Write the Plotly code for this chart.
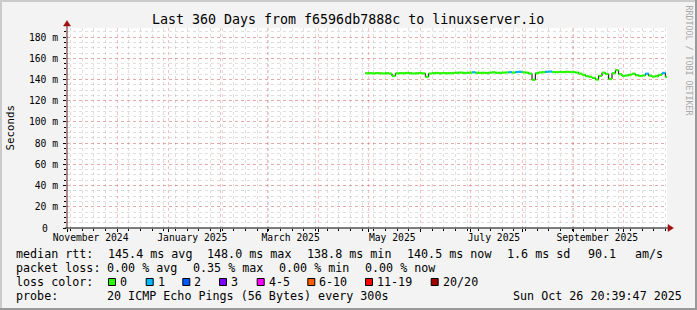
import plotly.graph_objects as go
import pandas as pd

# ---------------- data ----------------
TITLE = "Last 360 Days from f6596db7888c to linuxserver.io"
START = "2024-10-31 20:39:47"
END = "2025-10-26 20:39:47"

# day offset from START of each sample (2-day step)
day_offsets = list(range(179, 361, 2))
median_ms = [
    145.9, 146.0, 145.8, 146.1, 145.9, 145.7, 146.0, 145.6, 143.3, 145.8,
    146.0, 145.9, 146.2, 146.0, 145.7, 145.9, 146.1, 145.8, 142.6, 145.7,
    146.0, 146.2, 145.9, 146.1, 146.0, 145.9, 146.2, 146.4, 146.6, 146.3,
    146.2, 146.5, 146.8, 146.4, 146.2, 146.4, 146.1, 146.5, 146.8, 146.4,
    146.3, 146.5, 146.7, 146.9, 146.6, 147.1, 147.3, 146.8, 146.5, 145.6,
    139.8, 146.0, 146.7, 146.9, 147.3, 147.5, 147.1, 146.9, 147.2, 147.0,
    147.3, 147.1, 147.0, 146.6, 145.6,
    144.5, 143.2, 142.6, 141.5, 140.0, 143.5, 146.5, 145.2, 140.5, 146.0,
    148.8, 145.0, 143.5, 143.8, 144.6, 145.5, 144.0, 143.4, 143.8, 145.5,
    143.6, 142.8, 143.2, 144.5, 146.2, 142.5,
]
loss = [0] * len(median_ms)
for d in (243, 265, 269, 271, 287, 289, 347, 357):
    loss[day_offsets.index(d)] = 1

month_labels = ["November 2024", "January 2025", "March 2025",
                "May 2025", "July 2025", "September 2025"]
month_label_dates = ["2024-11-15", "2025-01-15", "2025-03-15",
                     "2025-05-15", "2025-07-15", "2025-09-15"]

y_tick_vals = [0, 20, 40, 60, 80, 100, 120, 140, 160, 180]
y_tick_text = ["", "20 m", "40 m", "60 m", "80 m", "100 m",
               "120 m", "140 m", "160 m", "180 m"]
zero_label = "0"

loss_labels = ["0", "1", "2", "3", "4-5", "6-10", "11-19", "20/20"]
loss_colors = ["#26ff00", "#00b8ff", "#0059ff", "#7e00ff",
               "#ff00ff", "#ff5e00", "#ff0000", "#a10000"]

legend_rtt = [("median rtt:", 16), ("145.4 ms avg", 108), ("148.0 ms max", 207),
              ("138.8 ms min", 306.7), ("140.5 ms now", 406.7),
              ("1.6 ms sd", 506.7), ("90.1", 588.3), ("am/s", 635)]
legend_loss = [("packet loss:", 16), ("0.00 % avg", 107.3), ("0.35 % max", 193.3),
               ("0.00 % min", 279.3), ("0.00 % now", 365)]
legend_probe = [("probe:", 16), ("20 ICMP Echo Pings (56 Bytes) every 300s", 107.3),
                ("Sun Oct 26 20:39:47 2025", 513.3)]
loss_box_x = [108, 145.7, 182.3, 219, 256.7, 307.3, 365, 430.7]

# ---------------- geometry ----------------
WIDTH, HEIGHT = 697, 310
L, T, PW, PH = 67, 28, 600, 200
FONT = "DejaVu Sans Mono"


def px(x):
    return (x - L) / PW


def py(y):
    return (T + PH - y) / PH


start = pd.Timestamp(START)
end = pd.Timestamp(END)
xs = [start + pd.Timedelta(days=d) for d in day_offsets]

fig = go.Figure()

# black median line (shows vertical transitions)
fig.add_trace(go.Scatter(x=xs, y=median_ms, mode="lines", line_shape="hv",
                         line=dict(color="black", width=1),
                         hoverinfo="skip", showlegend=False))

# loss-colored horizontal segments
for lvl in sorted(set(loss)):
    sx, sy = [], []
    for i, v in enumerate(median_ms):
        if loss[i] != lvl:
            continue
        x1 = xs[i + 1] if i + 1 < len(xs) else end
        sx += [xs[i], x1, None]
        sy += [v, v, None]
    fig.add_trace(go.Scatter(x=sx, y=sy, mode="lines",
                             line=dict(color=loss_colors[lvl], width=2.2),
                             hoverinfo="skip", showlegend=False))

# invisible copy on the label axis so that it is drawn
fig.add_trace(go.Scatter(x=xs, y=median_ms, mode="lines", xaxis="x2",
                         line=dict(color="rgba(0,0,0,0)", width=0),
                         hoverinfo="skip", showlegend=False))

major_grid = "rgba(255,60,60,0.33)"
minor_grid = "rgba(150,150,150,0.30)"
tickfont = dict(family=FONT, size=9.7, color="black")

fig.update_layout(
    width=WIDTH, height=HEIGHT, autosize=False,
    margin=dict(l=L, r=WIDTH - L - PW, t=T, b=HEIGHT - T - PH, pad=0),
    paper_bgcolor="#f3f3f3", plot_bgcolor="white",
    showlegend=False,
    xaxis=dict(type="date", range=[start, end], tickmode="linear",
               tick0="2024-11-01", dtick="M1", showticklabels=False,
               showgrid=True, gridcolor=major_grid, griddash="dot", gridwidth=1,
               ticks="outside", ticklen=3, tickcolor="black",
               minor=dict(tick0="2024-11-03", dtick=7 * 86400000, showgrid=True,
                          gridcolor=minor_grid, griddash="dot",
                          ticks="outside", ticklen=2, tickcolor="black"),
               zeroline=False, showline=False, fixedrange=True),
    xaxis2=dict(type="date", range=[start, end], overlaying="x", anchor="y",
                side="bottom", tickmode="array", tickvals=month_label_dates,
                ticktext=month_labels, showgrid=False, ticks="",
                tickfont=tickfont, zeroline=False, showline=False,
                ticklabelstandoff=2, fixedrange=True),
    yaxis=dict(range=[0, 188.6], tickmode="array", tickvals=y_tick_vals,
               ticktext=y_tick_text, tickfont=tickfont,
               showgrid=True, gridcolor=major_grid, griddash="dot", gridwidth=1,
               ticks="outside", ticklen=3, tickcolor="black",
               ticklabelstandoff=3,
               minor=dict(tick0=0, dtick=5, showgrid=True, gridcolor=minor_grid,
                          griddash="dot", ticks="outside", ticklen=2,
                          tickcolor="black"),
               zeroline=False, showline=False, fixedrange=True),
)

shapes = []
# frame
shapes.append(dict(type="line", xref="paper", yref="paper", x0=px(0), x1=px(WIDTH),
                   y0=py(1), y1=py(1), line=dict(color="#cbcbcb", width=2)))
shapes.append(dict(type="line", xref="paper", yref="paper", x0=px(1), x1=px(1),
                   y0=py(0), y1=py(HEIGHT), line=dict(color="#cbcbcb", width=2)))
shapes.append(dict(type="line", xref="paper", yref="paper", x0=px(0), x1=px(WIDTH),
                   y0=py(HEIGHT - 1), y1=py(HEIGHT - 1), line=dict(color="#999999", width=2)))
shapes.append(dict(type="line", xref="paper", yref="paper", x0=px(WIDTH - 1), x1=px(WIDTH - 1),
                   y0=py(0), y1=py(HEIGHT), line=dict(color="#999999", width=2)))
# axes
shapes.append(dict(type="line", xref="paper", yref="paper", x0=px(L), x1=px(L),
                   y0=py(T + PH), y1=py(24), line=dict(color="#5a1a1a", width=1), layer="above"))
shapes.append(dict(type="line", xref="paper", yref="paper", x0=px(L - 2), x1=px(L + PW + 2),
                   y0=py(T + PH), y1=py(T + PH), line=dict(color="black", width=1), layer="above"))
# arrows
shapes.append(dict(type="path", xref="paper", yref="paper",
                   path=f"M {px(L-3.5)} {py(26)} L {px(L+3.5)} {py(26)} L {px(L)} {py(20.5)} Z",
                   fillcolor="#a01010", line=dict(color="#a01010", width=0.5), layer="above"))
shapes.append(dict(type="path", xref="paper", yref="paper",
                   path=f"M {px(L+PW+1)} {py(T+PH-3.5)} L {px(L+PW+1)} {py(T+PH+3.5)} L {px(L+PW+6.5)} {py(T+PH)} Z",
                   fillcolor="#a01010", line=dict(color="#a01010", width=0.5), layer="above"))
# loss color boxes
for bx, col in zip(loss_box_x, loss_colors):
    shapes.append(dict(type="rect", xref="paper", yref="paper",
                       x0=px(bx + 0.5), x1=px(bx + 7.5), y0=py(278.5), y1=py(285.5),
                       fillcolor=col, line=dict(color="black", width=1)))
fig.update_layout(shapes=shapes)

ann = []
txt = dict(family=FONT, size=11.7, color="black")


def add_text(s, x, y, font=txt, anchor="left", angle=0):
    ann.append(dict(text=s, x=px(x), y=py(y), xref="paper", yref="paper",
                    xanchor=anchor, yanchor="middle", showarrow=False,
                    font=font, borderpad=0, borderwidth=0, textangle=angle))


add_text(TITLE, 347.5, 19.3, font=dict(family=FONT, size=13.3, color="black"), anchor="center")
add_text("Seconds", 10, 127.5, font=dict(family=FONT, size=10.8, color="black"),
         anchor="center", angle=-90)
add_text("RRDTOOL / TOBI OETIKER", 688.5, 60,
         font=dict(family=FONT, size=8.3, color="#a8a8a8"), anchor="center", angle=90)
for s, x in legend_rtt:
    add_text(s, x, 254)
for s, x in legend_loss:
    add_text(s, x, 268.3)
add_text("loss color:", 16, 282.3)
for bx, lab in zip(loss_box_x, loss_labels):
    add_text(lab, bx + 12, 282.3)
for s, x in legend_probe:
    add_text(s, x, 296)
# y-axis "0" label (rrdtool pads it like the unit labels)
ann.append(dict(text=zero_label, x=px(47.5), y=y_tick_vals[0], xref="paper", yref="y",
                xanchor="right", yanchor="middle", showarrow=False,
                font=tickfont, borderpad=0, borderwidth=0))
fig.update_layout(annotations=ann)

fig.write_html("out.html")
